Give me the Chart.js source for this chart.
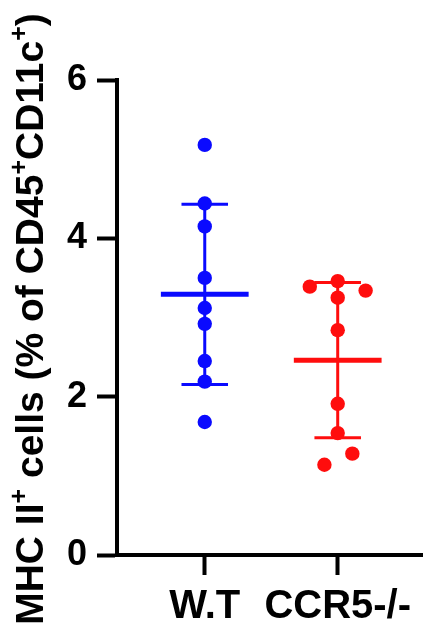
<!DOCTYPE html>
<html>
<head>
<meta charset="utf-8">
<script src="https://cdn.jsdelivr.net/npm/chart.js@4"></script>
<style>
  html, body { margin: 0; padding: 0; background: #fff; }
</style>
</head>
<body>
<canvas id="chart" width="430" height="627"></canvas>
<script>
// values
const categories = ['W.T', 'CCR5-/-'];
const wtValues = [5.18, 4.44, 4.15, 3.50, 3.12, 2.92, 2.45, 2.19, 1.68];
const wtJitter = [0, 0, 0, 0, 0, 0, 0, 0, 0];
const ccr5Values = [3.46, 3.39, 3.34, 3.25, 2.84, 1.91, 1.54, 1.28, 1.14];
const ccr5Jitter = [0, -0.21, 0.21, 0, 0, 0, 0, 0.11, -0.10];
const yTicks = [0, 2, 4, 6];

const FONT = "'Liberation Sans', Arial, sans-serif";
const BLUE = '#0a0aff';
const RED = '#ff0d0d';

function mean(arr) {
  return arr.reduce((a, b) => a + b, 0) / arr.length;
}

function sd(arr) {
  const m = mean(arr);
  return Math.sqrt(arr.reduce((a, b) => a + (b - m) * (b - m), 0) / (arr.length - 1));
}

function points(values, jitter, pos) {
  return values.map((v, i) => ({ x: pos + jitter[i], y: v }));
}

function segment(x1, y1, x2, y2, color, width) {
  return {
    data: [{ x: x1, y: y1 }, { x: x2, y: y2 }],
    showLine: true,
    borderColor: color,
    borderWidth: width,
    pointRadius: 0,
    order: 2
  };
}

// mean line + SD whiskers for one group
function summary(values, pos, color) {
  const m = mean(values);
  const s = sd(values);
  return [
    segment(pos, m - s, pos, m + s, color, 3),
    segment(pos - 0.175, m + s, pos + 0.175, m + s, color, 3),
    segment(pos - 0.175, m - s, pos + 0.175, m - s, color, 3),
    segment(pos - 0.33, m, pos + 0.33, m, color, 5)
  ];
}

const datasets = [
  ...summary(wtValues, 1, BLUE),
  ...summary(ccr5Values, 2, RED),
  {
    data: points(wtValues, wtJitter, 1),
    backgroundColor: BLUE,
    borderWidth: 0,
    pointRadius: 7.2,
    order: 1
  },
  {
    data: points(ccr5Values, ccr5Jitter, 2),
    backgroundColor: RED,
    borderWidth: 0,
    pointRadius: 7.2,
    order: 1
  }
];

// rotated y title with superscript plus signs
const yTitle = {
  id: 'yTitle',
  afterDraw(chart) {
    const ctx = chart.ctx;
    const size = 39;
    const parts = [
      ['MHC II', false], ['+', true], [' cells (% of CD45', false],
      ['+', true], ['CD11c', false], ['+', true], [')', false]
    ];
    const fontFor = sup => 'bold ' + (sup ? 25 : size) + 'px ' + FONT;
    ctx.save();
    let total = 0;
    parts.forEach(p => {
      ctx.font = fontFor(p[1]);
      total += ctx.measureText(p[0]).width;
    });
    ctx.translate(43, 319);
    ctx.rotate(-Math.PI / 2);
    ctx.fillStyle = '#000';
    ctx.textBaseline = 'alphabetic';
    let x = -total / 2;
    parts.forEach(p => {
      ctx.font = fontFor(p[1]);
      ctx.fillText(p[0], x, p[1] ? -16 : 0);
      x += ctx.measureText(p[0]).width;
    });
    ctx.restore();
  }
};

new Chart(document.getElementById('chart'), {
  type: 'scatter',
  data: { datasets: datasets },
  options: {
    responsive: false,
    animation: false,
    devicePixelRatio: 1,
    layout: { padding: { top: 80, right: 0, bottom: 0, left: 0 } },
    plugins: {
      legend: { display: false },
      tooltip: { enabled: false }
    },
    scales: {
      x: {
        type: 'linear',
        min: 0.34,
        max: 2.64,
        afterBuildTicks: scale => { scale.ticks = [{ value: 1 }, { value: 2 }]; },
        afterFit: scale => { scale.height = 72; },
        grid: { drawOnChartArea: false, drawTicks: true, tickLength: 20, tickWidth: 4, tickColor: '#000' },
        border: { color: '#000', width: 4 },
        ticks: {
          color: '#000',
          padding: 8,
          maxRotation: 0,
          font: { family: FONT, size: 40, weight: 'bold' },
          callback: v => categories[Math.round(v) - 1]
        }
      },
      y: {
        min: 0,
        max: 6,
        afterBuildTicks: scale => { scale.ticks = yTicks.map(v => ({ value: v })); },
        afterFit: scale => { scale.width = 117; },
        grid: { drawOnChartArea: false, drawTicks: true, tickLength: 20, tickWidth: 4, tickColor: '#000' },
        border: { color: '#000', width: 4 },
        ticks: {
          color: '#000',
          padding: 10,
          font: { family: FONT, size: 36, weight: 'bold' }
        }
      }
    }
  },
  plugins: [yTitle]
});
</script>
</body>
</html>
